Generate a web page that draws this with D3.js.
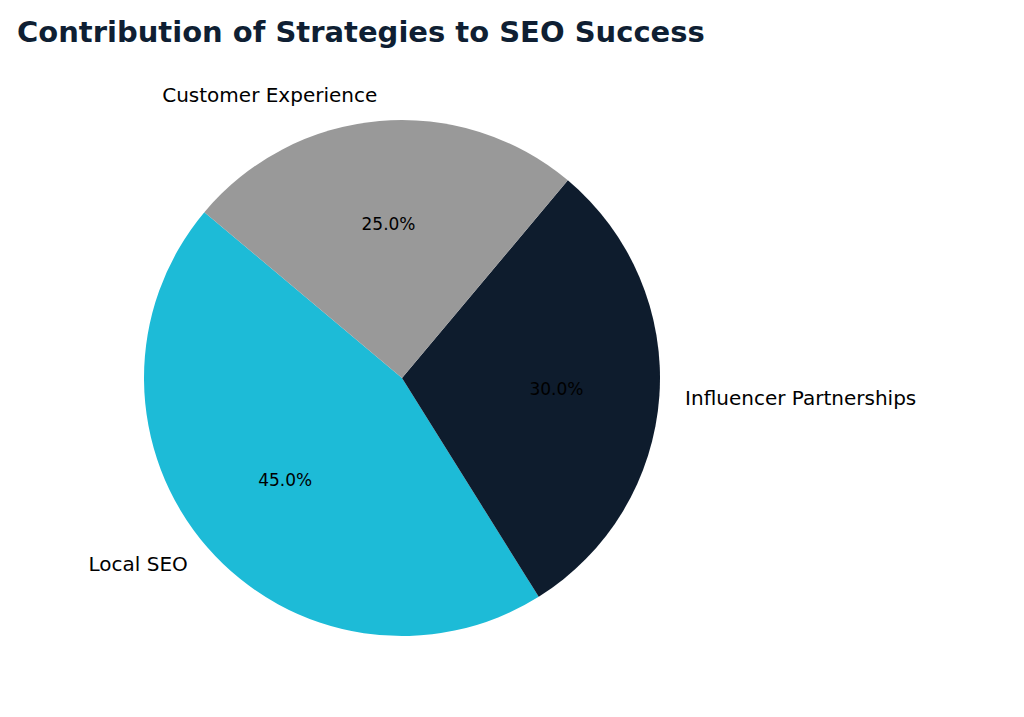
<!DOCTYPE html>
<html><head><meta charset="utf-8">
<script src="https://cdn.jsdelivr.net/npm/d3@7"></script>
<style>body{margin:0;background:#fff}</style></head>
<body><svg id="c" width="1024" height="717"></svg>
<script>
const categories = ["Local SEO", "Influencer Partnerships", "Customer Experience"];
const values = [45, 30, 25];
const colors = ["#1DBBD7", "#0E1C2D", "#999999"];

const svg = d3.select("#c");
const cx = 402, cy = 378, r = 258;
svg.append("text").attr("x", 17).attr("y", 42)
  .attr("font-family", "DejaVu Sans").attr("font-weight", "bold")
  .attr("font-size", 29).attr("fill", "#0F1F33")
  .text("Contribution of Strategies to SEO Success");

const deg = Math.PI / 180;
const pie = d3.pie().sort(null).value(d => d)
  .startAngle((90 - 140) * deg).endAngle((90 - 140 - 360) * deg);
const arcs = pie(values);
const arc = d3.arc().innerRadius(0).outerRadius(r);
const g = svg.append("g").attr("transform", `translate(${cx},${cy})`);
g.selectAll("path").data(arcs).join("path")
  .attr("d", arc).attr("fill", (d, i) => colors[i]);

arcs.forEach((d, i) => {
  const a = (d.startAngle + d.endAngle) / 2;
  const sx = Math.sin(a), sy = -Math.cos(a);
  g.append("text").attr("x", sx * r * 1.1).attr("y", sy * r * 1.1)
    .attr("dy", "0.35em").attr("text-anchor", sx < 0 ? "end" : "start")
    .attr("font-family", "DejaVu Sans").attr("font-size", 20).attr("fill", "#000")
    .text(categories[i]);
  g.append("text").attr("x", sx * r * 0.6).attr("y", sy * r * 0.6)
    .attr("dy", "0.35em").attr("text-anchor", "middle")
    .attr("font-family", "DejaVu Sans").attr("font-size", 17).attr("fill", "#000")
    .text(values[i].toFixed(1) + "%");
});
</script></body></html>
